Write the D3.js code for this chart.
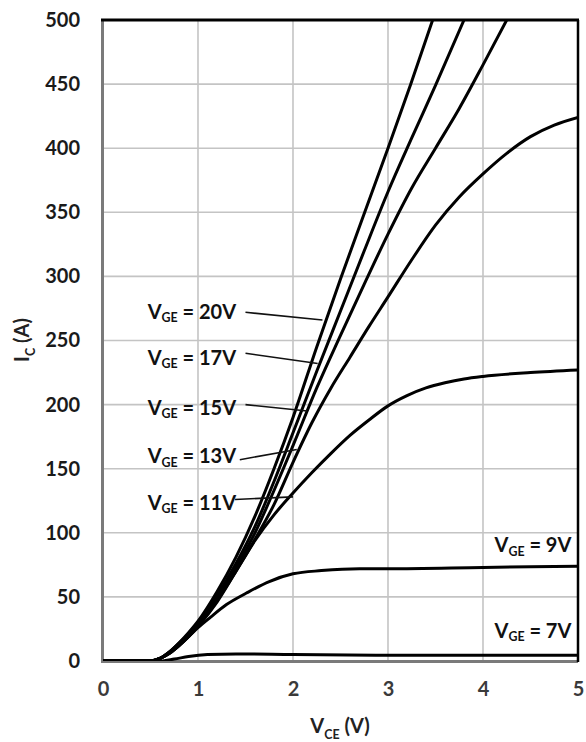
<!DOCTYPE html>
<html>
<head>
<meta charset="utf-8">
<script src="https://cdn.jsdelivr.net/npm/d3@7"></script>
<style>
  html, body { margin: 0; padding: 0; background: #fff; }
  svg { display: block; }
  text { font-family: Lato, "Open Sans", "DejaVu Sans", sans-serif; font-weight: 700; }
</style>
</head>
<body>
<svg id="chart" width="586" height="742"></svg>
<script>
// ---- data ----
const xTicks = [0, 1, 2, 3, 4, 5];
const yTicks = [0, 50, 100, 150, 200, 250, 300, 350, 400, 450, 500];
const vgeLevels = ["20V", "17V", "15V", "13V", "11V", "9V", "7V"];

const curve20 = [[0,0],[0.5,0],[0.6,2],[0.7,7],[0.8,14],[0.9,22],[1.0,31],[1.2,54],[1.4,81],[1.6,113],[1.8,150],[2.0,190],[2.25,245],[2.5,298],[2.75,349],[3.0,400],[3.24,450],[3.47,500]];
const curve17 = [[0,0],[0.5,0],[0.6,2],[0.7,7],[0.8,14],[0.9,21],[1.0,30],[1.2,51],[1.4,76],[1.6,105],[1.8,140],[2.0,178],[2.25,226],[2.5,273],[2.75,320],[3.0,366],[3.25,408],[3.5,449],[3.8,500]];
const curve15 = [[0,0],[0.5,0],[0.6,2],[0.7,7],[0.8,13],[0.9,21],[1.0,29],[1.2,49],[1.4,73],[1.6,100],[1.8,133],[2.0,168],[2.25,213],[2.5,254],[2.75,294],[3.0,333],[3.25,369],[3.5,400],[3.75,431],[4.0,465],[4.25,500]];
const curve13 = [[0,0],[0.5,0],[0.6,2],[0.7,6],[0.8,12],[0.9,19],[1.0,27],[1.2,47],[1.4,70],[1.6,95],[1.8,122],[2.0,155],[2.2,186],[2.4,213],[2.6,237],[2.8,261],[3.0,284],[3.25,313],[3.5,340],[3.75,362],[4.0,380],[4.25,396],[4.5,409],[4.75,418],[5.0,424]];
const curve11 = [[0,0],[0.5,0],[0.6,2],[0.7,6],[0.8,12],[0.9,19],[1.0,27],[1.2,46],[1.4,70],[1.6,94],[1.8,114],[2.0,131],[2.2,147],[2.4,162],[2.6,176],[2.8,188],[3.0,199],[3.2,207],[3.4,213],[3.6,217],[3.8,220],[4.0,222],[4.5,225],[5.0,227]];
const curve9  = [[0,0],[0.5,0],[0.6,2],[0.7,6],[0.8,12],[0.9,19],[1.0,26],[1.13,34],[1.3,44],[1.51,53],[1.75,62],[2.0,68],[2.3,70.5],[2.7,72],[3.0,72],[4.0,73],[5.0,74]];
const curve7  = [[0,0],[0.6,0],[0.75,1.5],[0.9,3.5],[1.1,5],[1.4,5.5],[2.0,5],[3.0,4.5],[5.0,4.5]];
const curves = [curve20, curve17, curve15, curve13, curve11, curve9, curve7];

// label anchor points (VCE, IC) and pointer end points (VCE, IC)
const labelPos = [[0.47, 271], [0.47, 235], [0.47, 196], [0.47, 158], [0.47, 122], [4.93, 89], [4.93, 22]];
const pointerStart = [[1.50, 272], [1.50, 240], [1.50, 200], [1.44, 157], [1.39, 126], null, null];
const pointerEnd   = [[2.31, 266], [2.26, 232], [2.15, 195], [2.04, 165], [2.00, 128], null, null];

// ---- drawing ----
const svg = d3.select("#chart");
const x = d3.scaleLinear().domain([0, 5]).range([103, 578]);
const y = d3.scaleLinear().domain([0, 500]).range([661, 20]);

// grid
const grid = svg.append("g");
grid.selectAll("line.v").data(xTicks.slice(1, -1)).join("line")
  .attr("x1", d => x(d)).attr("x2", d => x(d))
  .attr("y1", y(500)).attr("y2", y(0))
  .attr("stroke", "#c4c4c4").attr("stroke-width", 1.6);
grid.selectAll("line.h").data(yTicks.slice(1, -1)).join("line")
  .attr("x1", x(0)).attr("x2", x(5))
  .attr("y1", d => y(d)).attr("y2", d => y(d))
  .attr("stroke", "#c4c4c4").attr("stroke-width", 1.6);

// axes (tick labels only)
const yAxis = d3.axisLeft(y).tickValues(yTicks).tickFormat(d3.format("d")).tickSize(0).tickPadding(23);
const gy = svg.append("g").attr("transform", `translate(${x(0)},0)`).call(yAxis);
gy.select(".domain").remove();
gy.selectAll("text").attr("font-size", 20).attr("fill", "#1a1a1a")
  .style("font-family", "Lato, sans-serif").style("font-weight", 700);

const xAxis = d3.axisBottom(x).tickValues(xTicks).tickFormat(d3.format("d")).tickSize(0).tickPadding(21);
const gx = svg.append("g").attr("transform", `translate(0,${y(0)})`).call(xAxis);
gx.select(".domain").remove();
gx.selectAll("text").attr("font-size", 20).attr("fill", "#3a3a3a")
  .style("font-family", "Lato, sans-serif").style("font-weight", 700);

// clip
svg.append("clipPath").attr("id", "plotclip").append("rect")
  .attr("x", x(0)).attr("y", y(500)).attr("width", x(5) - x(0)).attr("height", y(0) - y(500));

// frame (left/bottom grey, top/right black)
svg.append("line").attr("x1", x(0)).attr("x2", x(5)).attr("y1", y(0) + 0.5).attr("y2", y(0) + 0.5)
  .attr("stroke", "#7a7a7a").attr("stroke-width", 3);
svg.append("line").attr("x1", x(0) - 0.5).attr("x2", x(0) - 0.5).attr("y1", y(500)).attr("y2", y(0) + 2)
  .attr("stroke", "#7a7a7a").attr("stroke-width", 3);

// curves
const line = d3.line().x(d => x(d[0])).y(d => y(d[1])).curve(d3.curveMonotoneX);
svg.append("g").attr("clip-path", "url(#plotclip)")
  .selectAll("path").data(curves).join("path")
  .attr("d", line).attr("fill", "none")
  .attr("stroke", "#000").attr("stroke-width", 3).attr("stroke-linejoin", "round");

svg.append("line").attr("x1", x(0) - 2).attr("x2", x(5) + 1).attr("y1", y(500)).attr("y2", y(500))
  .attr("stroke", "#000").attr("stroke-width", 3.2);
svg.append("line").attr("x1", x(5)).attr("x2", x(5)).attr("y1", y(500)).attr("y2", y(0) + 1)
  .attr("stroke", "#000").attr("stroke-width", 2.5);

// pointer lines
svg.append("g").selectAll("line").data(vgeLevels.map((v, i) => i).filter(i => pointerStart[i]))
  .join("line")
  .attr("x1", i => x(pointerStart[i][0])).attr("y1", i => y(pointerStart[i][1]))
  .attr("x2", i => x(pointerEnd[i][0])).attr("y2", i => y(pointerEnd[i][1]))
  .attr("stroke", "#111").attr("stroke-width", 1.6);

// VGE labels
function subLabel(sel, main, sub, rest, size) {
  sel.append("tspan").text(main);
  sel.append("tspan").text(sub).attr("font-size", size * 0.62).attr("dy", size * 0.28);
  sel.append("tspan").text(rest).attr("dy", -size * 0.28);
}
vgeLevels.forEach((v, i) => {
  const t = svg.append("text")
    .attr("x", x(labelPos[i][0])).attr("y", y(labelPos[i][1]))
    .attr("dominant-baseline", "middle")
    .attr("text-anchor", i >= 5 ? "end" : "start")
    .attr("font-size", 20).attr("fill", "#111");
  subLabel(t, "V", "GE", " = " + v, 20);
});

// axis titles
const xt = svg.append("text").attr("x", 340).attr("y", 733)
  .attr("text-anchor", "middle").attr("font-size", 20).attr("fill", "#222");
subLabel(xt, "V", "CE", " (V)", 20);

const yt = svg.append("text").attr("transform", "translate(29,340) rotate(-90)")
  .attr("text-anchor", "middle").attr("font-size", 20).attr("fill", "#222");
subLabel(yt, "I", "C", " (A)", 20);
</script>
</body>
</html>
